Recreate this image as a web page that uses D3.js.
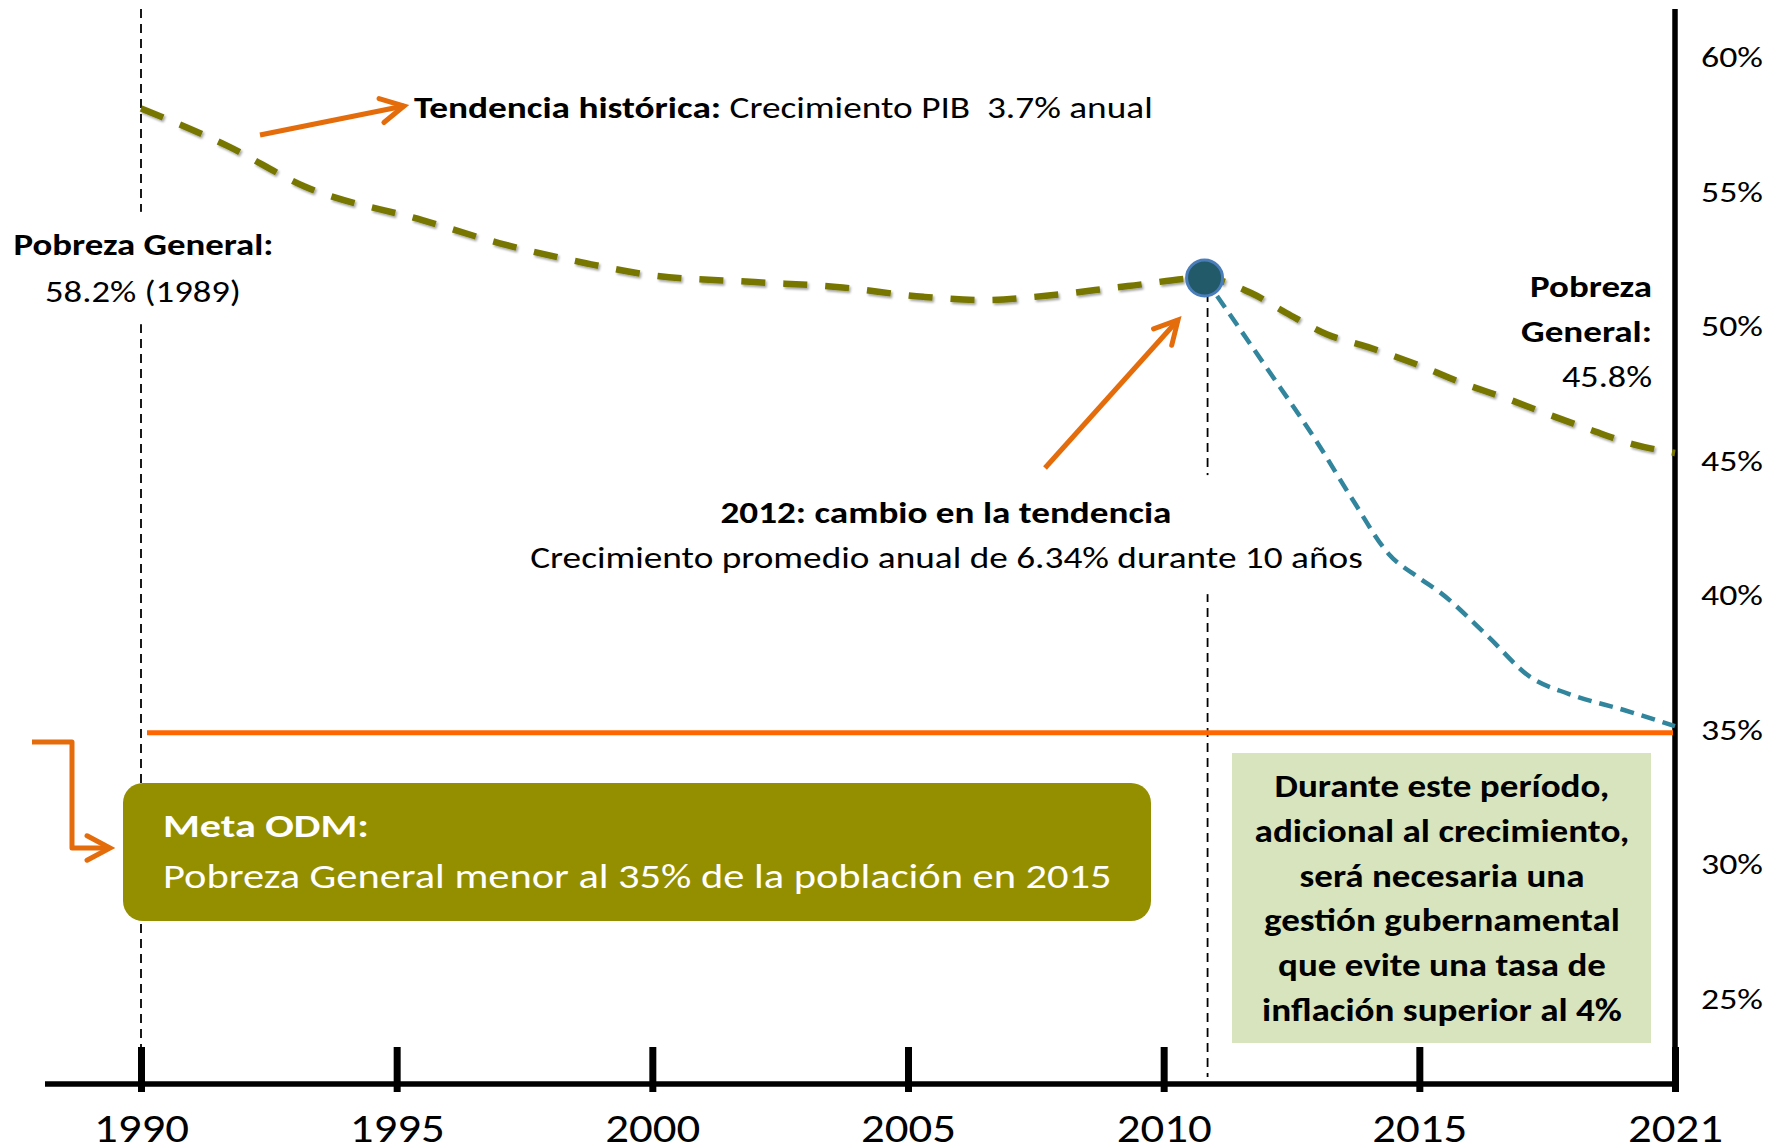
<!DOCTYPE html>
<html><head><meta charset="utf-8">
<script src="https://cdn.jsdelivr.net/npm/d3@7"></script>
<style>
body{margin:0;background:#fff;}
svg{display:block;font-family:Carlito, Calibri, Lato, sans-serif;}
text{white-space:pre;}
</style></head><body>
<svg id="c" width="1771" height="1147"></svg>
<script>
// ---------- data ----------
const xTicks = [1990, 1995, 2000, 2005, 2010, 2015, 2021];
const yTicks = [60, 55, 50, 45, 40, 35, 30, 25];
const trendYears  = [1990, 1991.7, 1993.2, 1995.5, 1997, 1998.7, 2000, 2002, 2003.6, 2005.3, 2006.5, 2007.7, 2009.3, 2010.8, 2011.7, 2012.4, 2013.2, 2014, 2015, 2016, 2017, 2018, 2019, 2020, 2021];
const trendValues = [58.2, 56.8, 55.3, 54.05, 53.2, 52.45, 52.0, 51.75, 51.57, 51.2, 51.08, 51.24, 51.6, 51.9, 51.35, 50.6, 49.8, 49.33, 48.65, 48.0, 47.45, 46.85, 46.27, 45.73, 45.4];
const newYears  = [2010.8, 2012, 2013, 2013.7, 2014.4, 2015, 2015.5, 2016.6, 2017.6, 2018.5, 2019.8, 2021];
const newValues = [51.9, 48.6, 45.8, 43.65, 41.65, 40.75, 40.2, 38.6, 37.08, 36.45, 35.85, 35.25];
const changeYear = 2010.8, changeValue = 51.9;
const goalValue = 35;

// ---------- scales ----------
const svg = d3.select("#c");
const xPos = d3.scalePoint().domain(xTicks).range([141, 1675]);
const x = d3.scaleLinear().domain(xTicks).range(xTicks.map(d => xPos(d)));
const y = d3.scaleLinear().domain([25, 60]).range([1002, 60]);
const axisY = 1084, axisTop = 9, axisRight = 1675, axisLeft = 45;
const FONT = "Carlito, Calibri, Lato, sans-serif";

// stretch a text horizontally (about its anchor x) to a target width
function fit(sel, target){
  const w = sel.node().getBBox().width;
  const ax = +sel.attr("x") || 0;
  const sx = target / w;
  sel.attr("transform", `translate(${ax*(1-sx)},0) scale(${sx},1)`);
  return sel;
}

const defs = svg.append("defs");
const f = defs.append("filter").attr("id","sh").attr("x","-5%").attr("y","-20%").attr("width","110%").attr("height","140%");
f.append("feDropShadow").attr("dx",1.5).attr("dy",2).attr("stdDeviation",1.2).attr("flood-color","#000").attr("flood-opacity",0.35);

// ---------- vertical dashed guide lines ----------
const guideL = x(1990), guideC = x(changeYear)+3;
svg.append("line").attr("x1", guideL).attr("x2", guideL).attr("y1", axisTop).attr("y2", 1047)
  .attr("stroke","#000").attr("stroke-width",1.8).attr("stroke-dasharray","9,6");
svg.append("line").attr("x1", guideC).attr("x2", guideC).attr("y1", y(changeValue)).attr("y2", 1077)
  .attr("stroke","#000").attr("stroke-width",1.8).attr("stroke-dasharray","9,6");

// ---------- axes ----------
svg.append("line").attr("x1", axisLeft).attr("x2", axisRight+3).attr("y1", axisY).attr("y2", axisY)
  .attr("stroke","#000").attr("stroke-width",5.5);
svg.append("line").attr("x1", axisRight).attr("x2", axisRight).attr("y1", axisTop).attr("y2", axisY+2.5)
  .attr("stroke","#000").attr("stroke-width",5.5);

const gx = svg.append("g").attr("transform", `translate(0,1092)`)
  .call(d3.axisBottom(x).tickValues(xTicks).tickFormat(d3.format("d")).tickSizeInner(-45).tickSizeOuter(0).tickPadding(0));
gx.select(".domain").remove();
gx.selectAll(".tick line").attr("stroke","#000").attr("stroke-width",7);
gx.selectAll(".tick text").attr("fill","#000").attr("font-size",42).attr("font-family",FONT)
  .attr("y", 50.5).attr("dy", null).attr("x", 0)
  .each(function(){ fit(d3.select(this), 95); });

const gy = svg.append("g").attr("transform", `translate(${axisRight},0)`)
  .call(d3.axisRight(y).tickValues(yTicks).tickFormat(d => d + "%").tickSize(0).tickPadding(26));
gy.select(".domain").remove();
gy.selectAll(".tick text").attr("fill","#000").attr("font-size",29.5).attr("font-family",FONT)
  .attr("dy", null).attr("y", 6.5)
  .each(function(){ fit(d3.select(this), 62); });

// ---------- goal line ----------
svg.append("line").attr("x1", x(1990)+6).attr("x2", axisRight-2).attr("y1", y(goalValue)).attr("y2", y(goalValue))
  .attr("stroke","#FF6600").attr("stroke-width",5);

// ---------- series ----------
const line = d3.line().x(d => x(d[0])).y(d => y(d[1])).curve(d3.curveMonotoneX);
svg.append("path").datum(newYears.map((d,i)=>[d,newValues[i]])).attr("d", line)
  .attr("fill","none").attr("stroke","#31859C").attr("stroke-width",4.5).attr("stroke-dasharray","14,8");
svg.append("path").datum(trendYears.map((d,i)=>[d,trendValues[i]])).attr("d", line)
  .attr("fill","none").attr("stroke","#767600").attr("stroke-width",6.5).attr("stroke-dasharray","24,18")
  .attr("filter","url(#sh)");
svg.append("circle").attr("cx", x(changeYear)).attr("cy", y(changeValue)).attr("r", 18)
  .attr("fill","#225A69").attr("stroke","#4A7EBB").attr("stroke-width",3);

// ---------- arrows ----------
function arrow(pts, color){
  svg.append("path").attr("d", d3.line()(pts)).attr("fill","none").attr("stroke",color)
    .attr("stroke-width",5).attr("stroke-linejoin","round").attr("stroke-linecap","butt");
  const [a,b] = pts.slice(-2);
  const ang = Math.atan2(a[1]-b[1], a[0]-b[0]);
  const L = 26, t = 28*Math.PI/180;
  const p1 = [b[0]+L*Math.cos(ang+t), b[1]+L*Math.sin(ang+t)];
  const p2 = [b[0]+L*Math.cos(ang-t), b[1]+L*Math.sin(ang-t)];
  svg.append("path").attr("d", d3.line()([p1,b,p2])).attr("fill","none").attr("stroke",color)
    .attr("stroke-width",5).attr("stroke-linejoin","miter").attr("stroke-linecap","round");
}
arrow([[260,135],[404,106]], "#E46C0A");
arrow([[1045,468],[1178,320]], "#E46C0A");
arrow([[32,742],[72,742],[72,848],[110,848]], "#E46C0A");

// ---------- annotations ----------
function label(g, xx, yy, parts, size, anchor, width, color){
  const t = g.append("text").attr("x", xx).attr("y", yy).attr("font-size", size)
    .attr("font-family", FONT).attr("text-anchor", anchor || "start").attr("fill", color || "#000");
  parts.forEach(p => t.append("tspan").attr("font-weight", p[1] ? "bold" : "normal").text(p[0]));
  if (width) fit(t, width);
  return t;
}
function gapBehind(g, gx0, pad){
  const bb = g.node().getBBox();
  g.insert("rect", ":first-child").attr("x", gx0 - 6).attr("y", bb.y - pad).attr("width", 12).attr("height", bb.height + 2*pad).attr("fill","#fff");
}
const AS = 31;
label(svg, 414, 118, [["Tendencia histórica:", true], [" Crecimiento PIB  3.7% anual", false]], AS, "start", 739);

const gL = svg.append("g");
label(gL, 143.5, 255, [["Pobreza General:", true]], AS, "middle", 260);
label(gL, 143, 302, [["58.2% (1989)", false]], AS, "middle", 196);
gapBehind(gL, guideL, 14);

const gC = svg.append("g");
label(gC, 946, 523, [["2012: cambio en la tendencia", true]], AS, "middle", 451);
label(gC, 946.5, 568, [["Crecimiento promedio anual de 6.34% durante 10 años", false]], AS, "middle", 833);
gapBehind(gC, guideC, 18);

label(svg, 1652, 297, [["Pobreza", true]], AS, "end", 122);
label(svg, 1652, 342, [["General:", true]], AS, "end", 131);
label(svg, 1652, 387, [["45.8%", false]], AS, "end", 90);

// Meta ODM box
svg.append("rect").attr("x",123).attr("y",783).attr("width",1028).attr("height",138).attr("rx",20)
  .attr("fill","#948F00");
label(svg, 163, 837, [["Meta ODM:", true]], 33, "start", 206, "#fff");
label(svg, 163, 888.5, [["Pobreza General menor al 35% de la población en 2015", false]], 34.5, "start", 949, "#fff");

// Green note box
svg.append("rect").attr("x",1232).attr("y",753).attr("width",419).attr("height",290).attr("fill","#D7E4BD");
const noteLines = ["Durante este período,", "adicional al crecimiento,", "será necesaria una", "gestión gubernamental", "que evite una tasa de", "inflación superior al 4%"];
const noteWidths = [335, 375, 285, 356, 328, 360];
noteLines.forEach((s,i) => {
  label(svg, 1442, 797 + i*44.8, [[s, true]], 31.5, "middle", noteWidths[i]);
});
</script>
</body></html>
